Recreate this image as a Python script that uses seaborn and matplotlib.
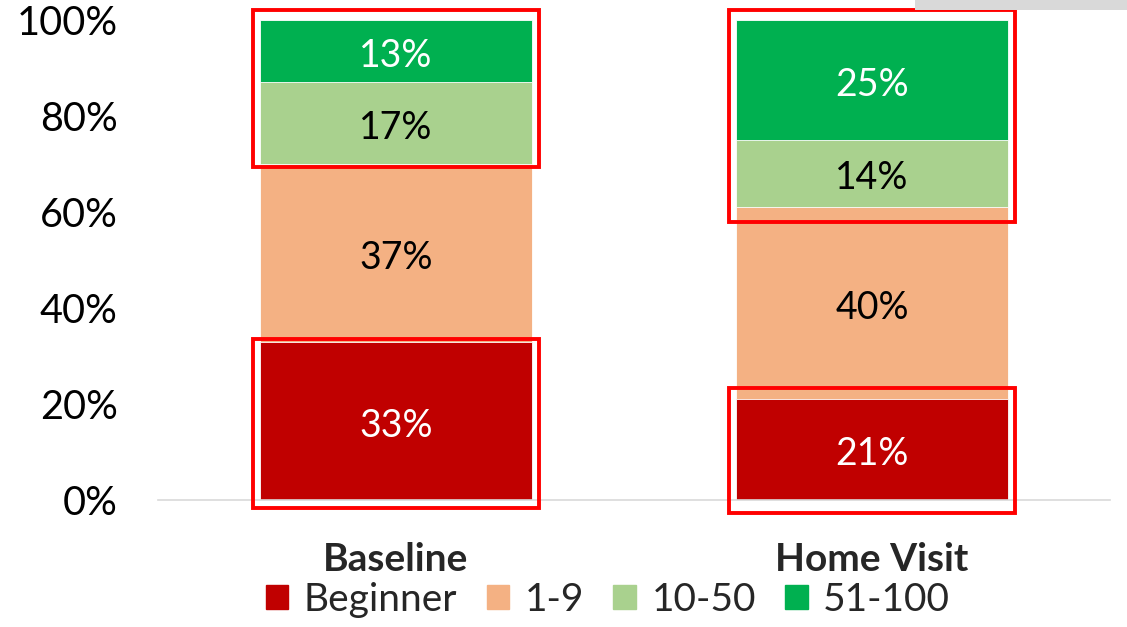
import matplotlib
matplotlib.use("Agg")
import matplotlib.pyplot as plt
import seaborn as sns
import numpy as np
import pandas as pd
from matplotlib.patches import Rectangle, Patch

# ---- data ----
categories = ["Baseline", "Home Visit"]
series_names = ["Beginner", "1-9", "10-50", "51-100"]
beginner = [33, 21]
one_to_nine = [37, 40]
ten_to_fifty = [17, 14]
fiftyone_to_hundred = [13, 25]
y_ticks = [0, 20, 40, 60, 80, 100]

# ---- style ----
colors = ["#C00000", "#F4B183", "#A9D18E", "#00B050"]
label_colors = ["white", "black", "black", "white"]
FONT = ["Lato", "DejaVu Sans"]

sns.set_theme(style="white")
plt.rcParams["font.family"] = FONT

values = np.array([beginner, one_to_nine, ten_to_fifty, fiftyone_to_hundred], dtype=float)
cum = np.cumsum(values, axis=0)

fig = plt.figure(figsize=(11.27, 6.27), dpi=100)
ax = fig.add_axes([158 / 1127, 1 - 500 / 627, (1110 - 158) / 1127, (500 - 20) / 627])

bar_w = 0.57
# draw from top of stack down so lower segments overlay upper ones
for i in range(len(series_names) - 1, -1, -1):
    df = pd.DataFrame({"cat": categories, "val": cum[i]})
    sns.barplot(data=df, x="cat", y="val", color=colors[i], width=bar_w,
                saturation=1, ax=ax, edgecolor="white", linewidth=0.6, errorbar=None)

# data labels
label_offset = -1.0
for j, cat in enumerate(categories):
    for i in range(len(series_names)):
        bottom = cum[i][j] - values[i][j]
        mid = bottom + values[i][j] / 2 + label_offset
        ax.text(j, mid, f"{int(values[i][j])}%", ha="center", va="center",
                fontsize=27, color=label_colors[i], family=FONT)

# red highlight boxes (category index, y_bottom, y_top in %)
box_pad = 0.016
boxes = [(0, 69.3, 102.1), (0, -1.7, 33.5), (1, 57.9, 102.1), (1, -2.7, 23.3)]
for j, y0, y1 in boxes:
    ax.add_patch(Rectangle((j - bar_w / 2 - box_pad, y0), bar_w + 2 * box_pad, y1 - y0,
                           fill=False, edgecolor="#FF0000", linewidth=2.8,
                           clip_on=False, zorder=5))

ax.set_xlim(-0.5, 1.5)
ax.set_ylim(0, 100)
ax.set_yticks(y_ticks)
ax.set_yticklabels([f"{t}%" for t in y_ticks], fontsize=28.5)
ax.tick_params(axis="y", length=0, pad=29, colors="black")
ax.tick_params(axis="x", length=0, pad=30)
ax.set_xticks(range(len(categories)))
ax.set_xticklabels(categories, fontsize=28, fontweight="bold")
ax.set_xlabel("")
ax.set_ylabel("")
for s in ["top", "right", "left"]:
    ax.spines[s].set_visible(False)
ax.spines["bottom"].set_color("#D9D9D9")
ax.spines["bottom"].set_linewidth(1.2)

# legend
handles = [Patch(facecolor=c, edgecolor=c) for c in colors]
fig.legend(handles, series_names, loc="center", bbox_to_anchor=(608 / 1127, 1 - 600 / 627),
           ncol=4, frameon=False, fontsize=28, handlelength=0.58, handleheight=0.58,
           handletextpad=0.4, columnspacing=0.75, borderaxespad=0, borderpad=0)

# grey corner strip
fig.add_artist(Rectangle((915 / 1127, 1 - 10 / 627), 212 / 1127, 10 / 627,
                         transform=fig.transFigure, facecolor="#D9D9D9", edgecolor="none"))

fig.savefig("out.png", dpi=100)
